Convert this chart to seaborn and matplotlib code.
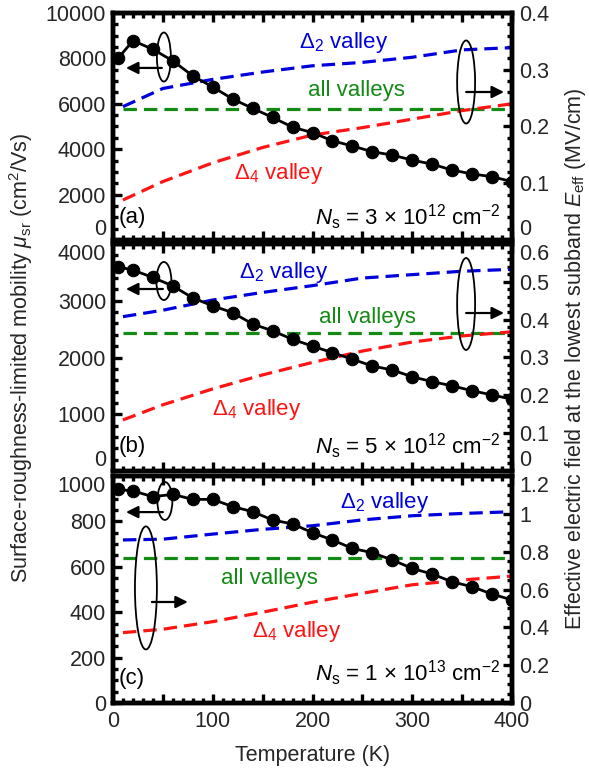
import numpy as np
import pandas as pd
import seaborn as sns
import matplotlib
matplotlib.use("Agg")
import matplotlib.pyplot as plt
from matplotlib.patches import Ellipse
from matplotlib.ticker import MultipleLocator, FuncFormatter

# ---------------- data ----------------
T_mob = [5, 20, 40, 60, 80, 100, 120, 140, 160, 180, 200,
         220, 240, 260, 280, 300, 320, 340, 360, 380, 400]
mob_a = [8000, 8780, 8400, 7890, 7230, 6740, 6210, 5800, 5400, 4970, 4730,
         4370, 4140, 3890, 3740, 3520, 3340, 3080, 2910, 2790, 2570]
mob_b = [3600, 3540, 3410, 3260, 3050, 2910, 2790, 2590, 2470, 2320, 2200,
         2085, 1970, 1850, 1780, 1660, 1575, 1500, 1415, 1340, 1265]
mob_c = [941, 934, 909, 919, 897, 897, 865, 843, 806, 789, 750,
         718, 681, 662, 630, 593, 568, 534, 512, 480, 454]

T_E = [10, 50, 100, 150, 200, 250, 300, 350, 400]
E2_a = [0.235, 0.267, 0.283, 0.296, 0.307, 0.313, 0.322, 0.335, 0.339]
E4_a = [0.0705, 0.103, 0.136, 0.163, 0.185, 0.198, 0.213, 0.228, 0.240]
Eall_a = [0.230] * 9
E2_b = [0.408, 0.425, 0.452, 0.472, 0.490, 0.510, 0.519, 0.528, 0.533]
E4_b = [0.135, 0.175, 0.217, 0.254, 0.287, 0.317, 0.341, 0.357, 0.368]
Eall_b = [0.364] * 9
E2_c = [0.862, 0.866, 0.893, 0.918, 0.937, 0.968, 0.990, 1.002, 1.011]
E4_c = [0.372, 0.390, 0.430, 0.480, 0.533, 0.580, 0.625, 0.650, 0.671]
Eall_c = [0.765] * 9

panel_tags = ["(a)", "(b)", "(c)"]
ns_labels = [r"$N_{\rm s}$ = 3 × 10$^{12}$ cm$^{-2}$",
             r"$N_{\rm s}$ = 5 × 10$^{12}$ cm$^{-2}$",
             r"$N_{\rm s}$ = 1 × 10$^{13}$ cm$^{-2}$"]

# ---------------- style ----------------
sns.set_theme(style="ticks")
plt.rcParams["font.family"] = ["Liberation Sans", "DejaVu Sans"]
plt.rcParams["mathtext.fontset"] = "custom"
plt.rcParams["mathtext.rm"] = "Liberation Sans"
plt.rcParams["mathtext.it"] = "Liberation Sans:italic"
plt.rcParams["mathtext.bf"] = "Liberation Sans:bold"
plt.rcParams["axes.unicode_minus"] = True

BLUE = "#0000dd"
GREEN = "#138a13"
RED = "#ff1414"
TICK_FS = 15.5
TXT_FS = 16

fig = plt.figure(figsize=(5.89, 7.72), dpi=100)
W, H = 589, 772
left_px, right_px = 113, 512
tops = [13, 244, 476]
ph = 227

cfg = [
    dict(mob=mob_a, E2=E2_a, E4=E4_a, Eall=Eall_a, ylim=(0, 10000), ymaj=2000, ymin=500,
         elim=(0, 0.4), emaj=0.1, emin=0.02,
         lab2=(231, 8700), laball=(244, 6600), lab4=(166, 2950), tag=(6, 1000), ns=(388, 1000),
         ringL=(51, 8060, 14, 2160), arrL=((49, 7580), (13, 7580)),
         ringR=(354, 6960, 18, 3660), arrR=((354, 6520), (392, 6520)),
         shift_bottom=True, shift_top=False),
    dict(mob=mob_b, E2=E2_b, E4=E4_b, Eall=Eall_b, ylim=(0, 4000), ymaj=1000, ymin=200,
         elim=(0, 0.6), emaj=0.1, emin=0.02,
         lab2=(171, 3500), laball=(255, 2710), lab4=(144, 1075), tag=(6, 440), ns=(388, 440),
         ringL=(51, 3348, 15, 670), arrL=((50, 3207), (13, 3207)),
         ringR=(354, 2943, 18, 1620), arrR=((354, 2784), (392, 2784)),
         shift_bottom=True, shift_top=True),
    dict(mob=mob_c, E2=E2_c, E4=E4_c, Eall=Eall_c, ylim=(0, 1000), ymaj=200, ymin=50,
         elim=(0, 1.2), emaj=0.2, emin=0.05,
         lab2=(272, 885), laball=(157, 550), lab4=(184, 313), tag=(6, 110), ns=(388, 130),
         ringL=(52, 890, 15, 167), arrL=((50, 841), (13, 841)),
         ringR=(33, 507, 22, 542), arrR=((39, 445), (75, 445)),
         shift_bottom=False, shift_top=True),
]


def set_va(axis, value, va, which):
    locs = list(axis.get_majorticklocs())
    ticks = axis.get_major_ticks(len(locs))
    for loc, tk in zip(locs, ticks):
        if abs(loc - value) < 1e-9:
            lab = tk.label1 if which == 1 else tk.label2
            lab.set_verticalalignment(va)


def efmt(v, p):
    if abs(v) < 1e-9:
        return "0"
    s = f"{v:.2f}".rstrip("0").rstrip(".")
    return s


for i, c in enumerate(cfg):
    rect = [left_px / W, 1 - (tops[i] + ph) / H, (right_px - left_px) / W, ph / H]
    ax = fig.add_axes(rect)
    ax2 = ax.twinx()

    # dashed effective-field curves (right axis)
    for yv, col in ((c["E2"], BLUE), (c["Eall"], GREEN), (c["E4"], RED)):
        sns.lineplot(x=T_E, y=yv, ax=ax2, color=col, lw=2.3)
    for ln in ax2.get_lines():
        ln.set_linestyle((0, (4.2, 2.2)))
        ln.set_dash_capstyle("butt")

    # mobility (left axis)
    sns.lineplot(x=T_mob, y=c["mob"], ax=ax, color="black", lw=2.0, marker="o",
                 markersize=9, markeredgecolor="black", markerfacecolor="black")

    ax.set_zorder(ax2.get_zorder() + 1)
    ax.patch.set_visible(False)

    ax.set_xlim(0, 400)
    ax.set_ylim(*c["ylim"])
    ax2.set_ylim(*c["elim"])

    ax.xaxis.set_major_locator(MultipleLocator(50))
    ax.xaxis.set_minor_locator(MultipleLocator(10))
    ax.xaxis.set_major_formatter(FuncFormatter(lambda v, p: f"{int(v)}" if int(round(v)) % 100 == 0 else ""))
    ax.yaxis.set_major_locator(MultipleLocator(c["ymaj"]))
    ax.yaxis.set_minor_locator(MultipleLocator(c["ymin"]))
    ax2.yaxis.set_major_locator(MultipleLocator(c["emaj"]))
    ax2.yaxis.set_minor_locator(MultipleLocator(c["emin"]))
    ax2.yaxis.set_major_formatter(FuncFormatter(efmt))

    ax.tick_params(axis="x", which="both", direction="in", top=True, bottom=True,
                   labelbottom=(i == 2), labelsize=TICK_FS, pad=6)
    ax.tick_params(axis="y", which="both", direction="in", left=True, right=False,
                   labelsize=TICK_FS, pad=5)
    ax2.tick_params(axis="y", which="both", direction="in", right=True, left=False,
                    labelsize=TICK_FS, pad=5)
    for a in (ax, ax2):
        a.tick_params(which="major", length=6.5, width=2.4, color="black")
        a.tick_params(which="minor", length=3.5, width=2.4, color="black")
        for s in a.spines.values():
            s.set_linewidth(3.2)
            s.set_color("black")
            s.set_visible(True)
        a.set_xlabel("")
        a.set_ylabel("")

    fig.canvas.draw()
    if c["shift_bottom"]:
        set_va(ax.yaxis, 0, "bottom", 1)
        set_va(ax2.yaxis, 0, "bottom", 2)
    if c["shift_top"]:
        set_va(ax.yaxis, c["ylim"][1], "top", 1)
        set_va(ax2.yaxis, c["elim"][1], "top", 2)

    # curve labels
    ax.text(*c["lab2"], r"Δ$_2$ valley", color=BLUE, fontsize=TXT_FS, ha="center", va="center")
    ax.text(*c["laball"], "all valleys", color=GREEN, fontsize=TXT_FS, ha="center", va="center")
    ax.text(*c["lab4"], r"Δ$_4$ valley", color=RED, fontsize=TXT_FS, ha="center", va="center")
    ax.text(*c["tag"], panel_tags[i], color="black", fontsize=TXT_FS, ha="left", va="center")
    ax.text(*c["ns"], ns_labels[i], color="black", fontsize=TXT_FS, ha="right", va="center")

    # rings + arrows indicating the axis of each curve
    for ring, arr in ((c["ringL"], c["arrL"]), (c["ringR"], c["arrR"])):
        ax.add_patch(Ellipse((ring[0], ring[1]), ring[2], ring[3], fill=False,
                             edgecolor="black", lw=1.3, zorder=6))
        ax.annotate("", xy=arr[1], xytext=arr[0],
                    arrowprops=dict(arrowstyle="-|>,head_length=0.6,head_width=0.3",
                                    color="black", lw=1.6, shrinkA=0, shrinkB=0),
                    zorder=6)

fig.text(0.036, 0.536, r"Surface-roughness-limited mobility $\mu_{\rm sr}$ (cm$^2$/Vs)",
         rotation=90, ha="center", va="center", fontsize=TICK_FS)
fig.text(0.977, 0.535, r"Effective electric field at the lowest subband $E_{\rm eff}$ (MV/cm)",
         rotation=90, ha="center", va="center", fontsize=TICK_FS)
fig.text((left_px + right_px) / 2 / W, 1 - 755 / H, "Temperature (K)",
         ha="center", va="center", fontsize=TICK_FS)

fig.savefig("out.png", dpi=100)
